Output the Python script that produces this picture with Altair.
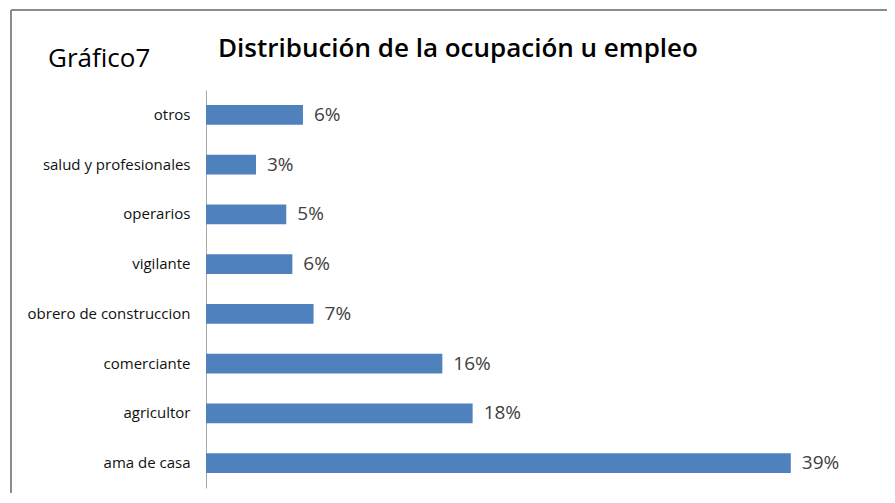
import altair as alt
import pandas as pd

categories = ["otros", "salud y profesionales", "operarios", "vigilante",
              "obrero de construccion", "comerciante", "agricultor", "ama de casa"]
values = [0.064, 0.033, 0.053, 0.057, 0.071, 0.156, 0.176, 0.386]
title_text = "Distribución de la ocupación u empleo"
side_text = "Gráfico7"

df = pd.DataFrame({"ocupacion": categories, "valor": values})

W, H = 606, 398
FONT = "Open Sans"

base = alt.Chart(df)
ysc = alt.Scale(paddingInner=0.6, paddingOuter=0.3)

bars = base.mark_bar(color="#4F81BD").encode(
    y=alt.Y("ocupacion:N", sort=categories, scale=ysc,
            axis=alt.Axis(title=None, ticks=False, labelPadding=16,
                          domainColor="#A6A6A6", domainWidth=1,
                          labelFont=FONT, labelFontSize=15, labelColor="#111111",
                          grid=False)),
    x=alt.X("valor:Q", scale=alt.Scale(domain=[0, 0.4], nice=False), axis=None),
)

labels = base.mark_text(align="left", baseline="middle", dx=11, font=FONT,
                        fontSize=19, color="#404040").encode(
    y=alt.Y("ocupacion:N", sort=categories, scale=ysc),
    x=alt.X("valor:Q"),
    text=alt.Text("valor:Q", format=".0%"),
)

one = alt.Data(values=[{"t": title_text, "s": side_text}])

title = alt.Chart(one).mark_text(align="left", baseline="alphabetic", font=FONT,
                                 fontSize=26, fontWeight=600, color="#000000").encode(
    x=alt.value(12), y=alt.value(-33), text="t:N")

side = alt.Chart(one).mark_text(align="left", baseline="alphabetic", font=FONT,
                                fontSize=26, color="#000000").encode(
    x=alt.value(-158), y=alt.value(-23), text="s:N")

frame_top = alt.Chart(one).mark_rule(color="#8C8C8C", strokeWidth=2).encode(
    x=alt.value(-195), x2=alt.value(W + 200), y=alt.value(-80))
frame_left = alt.Chart(one).mark_rule(color="#8C8C8C", strokeWidth=2).encode(
    x=alt.value(-195), y=alt.value(-80), y2=alt.value(H + 50))

chart = alt.layer(frame_top, frame_left, bars, labels, title, side).properties(
    width=W, height=H,
    autosize=alt.AutoSizeParams(type="none"),
    padding={"left": 198, "top": 82, "right": 75, "bottom": 5},
).configure_view(stroke=None)

chart.save("out.html", embed_options={"renderer": "svg", "actions": False})
